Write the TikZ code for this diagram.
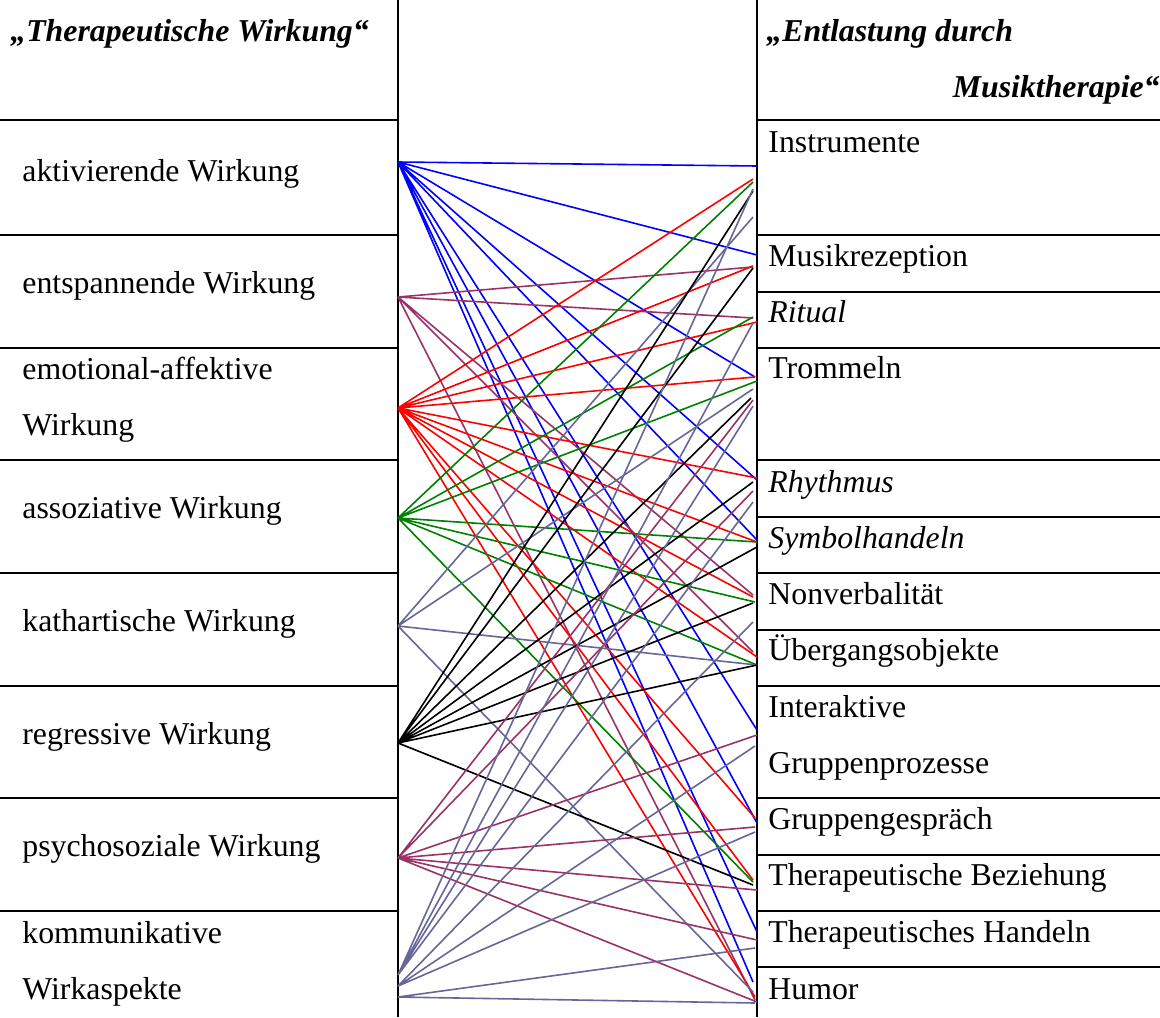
\documentclass[tikz,border=0pt]{standalone}
\usepackage{fontspec}
\setmainfont{Liberation Serif}
\definecolor{maroon}{RGB}{153,51,102}
\definecolor{slate}{RGB}{102,102,153}
\definecolor{leafgreen}{RGB}{0,128,0}
\begin{document}
\begin{tikzpicture}[x=0.5pt, y=-0.5pt]
\tikzset{ rule/.style={line width=1pt}, wire/.style={line width=0.8pt},
  lab/.style={anchor=base west, inner sep=0pt, font=\fontsize{15.9}{28}\selectfont},
  head/.style={lab, font=\fontsize{15.9}{28}\selectfont\bfseries\itshape} }

\useasboundingbox (0,0) rectangle (1160,1017);

% table
\draw [rule] (398,0) -- (398,1017);
\draw [rule] (757,0) -- (757,1017);
\foreach \y in {120,235,348,460,573,686,798,911}
  \draw [rule] (0,\y) -- (398,\y);
\foreach \y in {120,235,292,348,460,517,573,630,686,798,855,911,967}
  \draw [rule] (757,\y) -- (1160,\y);

% headers
\node [head] (hl) at (10,41) {„Therapeutische Wirkung“};
\node [head] (hr1) at (766,41) {„Entlastung durch};
\node [head, anchor=base east] (hr2) at (1160,97) {Musiktherapie“};

% left column
\node [lab] (lakt) at (22,181) {aktivierende Wirkung};
\node [lab] (lent) at (22,293) {entspannende Wirkung};
\node [lab] (lemo) at (22,379) {emotional-affektive};
\node [lab] (lemo2) at (22,435) {Wirkung};
\node [lab] (lass) at (22,518) {assoziative Wirkung};
\node [lab] (lkat) at (22,631) {kathartische Wirkung};
\node [lab] (lreg) at (22,744) {regressive Wirkung};
\node [lab] (lpsy) at (22,856) {psychosoziale Wirkung};
\node [lab] (lkom) at (22,943) {kommunikative};
\node [lab] (lkom2) at (22,999) {Wirkaspekte};

% right column
\node [lab] (rins) at (768,152) {Instrumente};
\node [lab] (rmus) at (768,266) {Musikrezeption};
\node [lab] (rrit) at (768,322) {\itshape Ritual};
\node [lab] (rtro) at (768,378) {Trommeln};
\node [lab] (rrhy) at (768,492) {\itshape Rhythmus};
\node [lab] (rsym) at (768,548) {\itshape Symbolhandeln};
\node [lab] (rnon) at (768,604) {Nonverbalität};
\node [lab] (rueb) at (768,660) {Übergangsobjekte};
\node [lab] (rint) at (768,717) {Interaktive};
\node [lab] (rint2) at (768,773) {Gruppenprozesse};
\node [lab] (rgru) at (768,829) {Gruppengespräch};
\node [lab] (rbez) at (768,885) {Therapeutische Beziehung};
\node [lab] (rhan) at (768,942) {Therapeutisches Handeln};
\node [lab] (rhum) at (768,999) {Humor};

% sources
\coordinate (akt) at (398,162);
\coordinate (ent) at (398,297);
\coordinate (emo) at (398,408);
\coordinate (ass) at (398,518);
\coordinate (kat) at (398,626);
\coordinate (reg) at (398,743);
\coordinate (psy) at (398,858);
\coordinate (kom) at (398,975);
\coordinate (kom2) at (398,986);
\coordinate (kom3) at (398,997);

% targets
\coordinate (insB) at (757,166);  \coordinate (insR) at (753,179);
\coordinate (insG) at (753,182);  \coordinate (insS) at (753,189);
\coordinate (insK) at (753,191);  \coordinate (insS2) at (753,217);
\coordinate (musB) at (757,255);  \coordinate (musR) at (753,266);
\coordinate (musM) at (753,267);  \coordinate (musK) at (753,268);
\coordinate (ritG) at (753,317);  \coordinate (ritM) at (753,318);
\coordinate (ritR) at (757,322);  \coordinate (ritS) at (753,323);
\coordinate (troB) at (755,377);  \coordinate (troR) at (755,377);
\coordinate (troG) at (757,381);  \coordinate (troS) at (753,389);
\coordinate (troK) at (751,398);  \coordinate (troM) at (753,400);
\coordinate (troS2) at (753,406);
\coordinate (rhyR) at (757,478);  \coordinate (rhyB) at (757,480);
\coordinate (rhyK) at (753,482);  \coordinate (rhyM) at (753,491);
\coordinate (rhyS) at (753,502);
\coordinate (symB) at (757,540);  \coordinate (symR) at (757,542);
\coordinate (symG) at (757,542);  \coordinate (symK) at (757,547);
\coordinate (nonM) at (753,595);  \coordinate (nonR) at (753,597);
\coordinate (nonG) at (755,602);  \coordinate (nonK) at (753,603);
\coordinate (ueS2) at (753,622);
\coordinate (ueM) at (753,652);   \coordinate (ueR) at (757,657);
\coordinate (ueG) at (757,665);   \coordinate (ueS) at (757,665);
\coordinate (ueK) at (757,665);
\coordinate (intB) at (757,730);  \coordinate (intM) at (757,735);
\coordinate (intS) at (755,746);
\coordinate (gruR) at (755,818);  \coordinate (gruB) at (757,823);
\coordinate (gruM) at (755,827);  \coordinate (gruS) at (755,832);
\coordinate (bezR) at (753,880);  \coordinate (bezG) at (753,882);
\coordinate (bezK) at (753,885);  \coordinate (bezM) at (757,890);
\coordinate (hanB) at (757,932);  \coordinate (hanM) at (757,940);
\coordinate (hanS) at (755,948);
\coordinate (humB) at (753,982);  \coordinate (humS) at (753,992);
\coordinate (humR) at (755,997);  \coordinate (humM) at (755,1000);
\coordinate (humM2) at (757,1002); \coordinate (humS2) at (755,1003);

% aktivierende Wirkung
\draw [wire, blue] (akt) -- (insB) (akt) -- (musB) (akt) -- (troB)
  (akt) -- (rhyB) (akt) -- (symB) (akt) -- (intB) (akt) -- (gruB)
  (akt) -- (hanB) (akt) -- (humB);
% entspannende Wirkung
\draw [wire, maroon] (ent) -- (musM) (ent) -- (ritM) (ent) -- (nonM)
  (ent) -- (ueM) (ent) -- (humM);
% emotional-affektive Wirkung
\draw [wire, red] (emo) -- (insR) (emo) -- (musR) (emo) -- (ritR)
  (emo) -- (troR) (emo) -- (rhyR) (emo) -- (symR) (emo) -- (nonR)
  (emo) -- (ueR) (emo) -- (gruR) (emo) -- (bezR) (emo) -- (humR);
% assoziative Wirkung
\draw [wire, leafgreen] (ass) -- (insG) (ass) -- (ritG) (ass) -- (troG)
  (ass) -- (symG) (ass) -- (nonG) (ass) -- (ueG) (ass) -- (bezG);
% kathartische Wirkung
\draw [wire, slate] (kat) -- (insS2) (kat) -- (troS) (kat) -- (ueS)
  (kat) -- (humS);
% regressive Wirkung
\draw [wire, black] (reg) -- (insK) (reg) -- (musK) (reg) -- (troK)
  (reg) -- (rhyK) (reg) -- (symK) (reg) -- (nonK) (reg) -- (ueK)
  (reg) -- (bezK);
% psychosoziale Wirkung
\draw [wire, maroon] (psy) -- (troM) (psy) -- (rhyM) (psy) -- (intM)
  (psy) -- (gruM) (psy) -- (bezM) (psy) -- (hanM) (psy) -- (humM2);
% kommunikative Wirkaspekte
\draw [wire, slate] (kom) -- (insS) (kom) -- (ritS) (kom) -- (troS2)
  (kom) -- (rhyS) (kom2) -- (ueS2) (kom2) -- (intS) (kom2) -- (gruS)
  (kom3) -- (hanS) (kom3) -- (humS2);

\end{tikzpicture}
\end{document}
